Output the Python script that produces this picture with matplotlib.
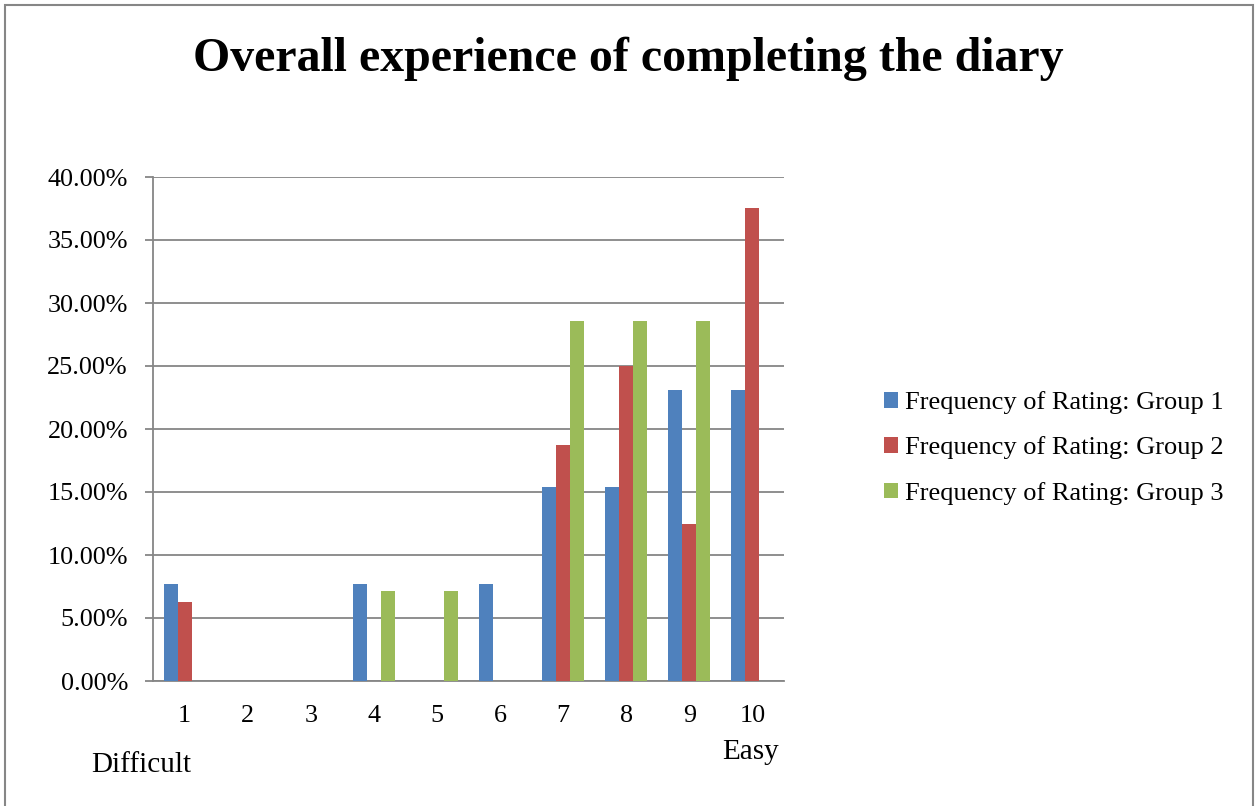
import matplotlib
matplotlib.use("Agg")
import matplotlib.pyplot as plt
from matplotlib.patches import Patch, Rectangle

plt.rcParams['font.family'] = ['Liberation Serif', 'DejaVu Serif']

ratings = ['1', '2', '3', '4', '5', '6', '7', '8', '9', '10']
series_names = ['Frequency of Rating: Group 1',
                'Frequency of Rating: Group 2',
                'Frequency of Rating: Group 3']
group1 = [7.69, 0, 0, 7.69, 0, 7.69, 15.38, 15.38, 23.08, 23.08]
group2 = [6.25, 0, 0, 0, 0, 0, 18.75, 25.00, 12.50, 37.50]
group3 = [0, 0, 0, 7.14, 7.14, 0, 28.57, 28.57, 28.57, 0]
y_ticks = [0, 5, 10, 15, 20, 25, 30, 35, 40]
colors = ['#4F81BD', '#C0504D', '#9BBB59']

W, H = 1259, 806
fig = plt.figure(figsize=(W / 100, H / 100), dpi=100)

# outer chart frame
fig.patches.append(Rectangle((5 / W, -0.05), (1253 - 5) / W, 1.05 - 5 / H,
                             transform=fig.transFigure, fill=False,
                             edgecolor='#868686', linewidth=1.5))

ax_l, ax_r, ax_t, ax_b = 153, 784, 177, 681
ax = fig.add_axes([ax_l / W, 1 - ax_b / H, (ax_r - ax_l) / W, (ax_b - ax_t) / H])

n = len(series_names)
bw = 1 / (n + 1.5)
x = list(range(len(ratings)))
for i, (vals, c, name) in enumerate(zip([group1, group2, group3], colors, series_names)):
    offs = (i - (n - 1) / 2) * bw
    ax.bar([xi + offs for xi in x], vals, width=bw, color=c, label=name,
           zorder=3, linewidth=0)

ax.set_xlim(-0.5, len(ratings) - 0.5)
ax.set_ylim(0, 40)
ax.set_yticks(y_ticks)
ax.set_yticklabels([f'{v:.2f}%' for v in y_ticks])
ax.set_xticks(x)
ax.set_xticklabels(ratings)
ax.yaxis.grid(True, color='#868686', linewidth=1.3, zorder=0)
ax.set_axisbelow(True)
for s in ['top', 'right']:
    ax.spines[s].set_visible(False)
for s in ['left', 'bottom']:
    ax.spines[s].set_color('#868686')
    ax.spines[s].set_linewidth(1.3)
ax.tick_params(axis='y', length=6, width=1.3, color='#868686', pad=12,
               labelsize=18.8)
ax.tick_params(axis='x', length=0, pad=17, labelsize=18.8)

fig.text(628 / W, 1 - 59 / H, 'Overall experience of completing the diary',
         ha='center', va='center', fontsize=34.5, fontweight='bold')
fig.text(91 / W, 1 - 765 / H, 'Difficult', ha='left', va='center', fontsize=21)
fig.text(722 / W, 1 - 752 / H, 'Easy', ha='left', va='center', fontsize=21)

handles = [Patch(facecolor=c, edgecolor='none') for c in colors]
fig.legend(handles, series_names, loc='center left',
           bbox_to_anchor=(884 / W, 1 - 448 / H), frameon=False,
           fontsize=19, handlelength=0.53, handleheight=0.53,
           handletextpad=0.25, labelspacing=0.85, borderpad=0,
           borderaxespad=0)

fig.savefig('out.png', dpi=100)
